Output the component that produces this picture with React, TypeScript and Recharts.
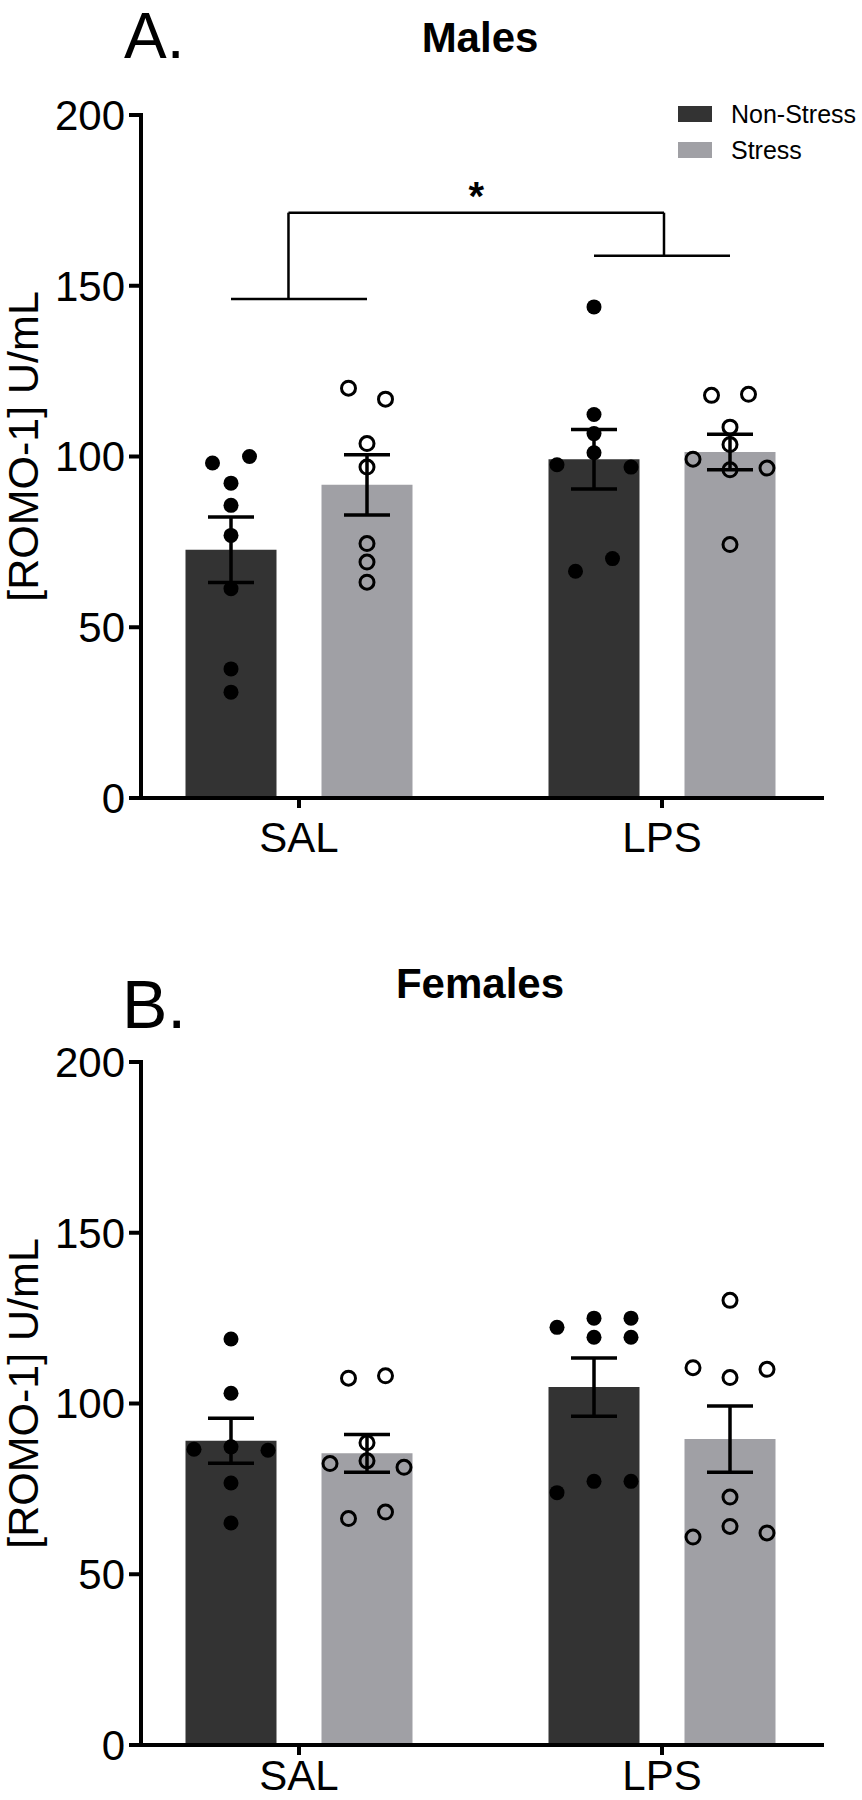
import React from 'react';
import {
  ComposedChart,
  Bar,
  Scatter,
  XAxis,
  YAxis,
  ErrorBar,
  ReferenceLine,
  ReferenceDot,
  Legend,
} from 'recharts';

const FONT = '"Liberation Sans", Arial, Helvetica, sans-serif';

const GROUPS = ['SAL', 'LPS'];
const SERIES = ['Non-Stress', 'Stress'];
const SERIES_COLORS = ['#333333', '#a0a0a5'];
const Y_TICKS = [0, 50, 100, 150, 200];
const Y_LABEL = '[ROMO-1] U/mL';

// Males (A)
const MALE_NS_MEAN = [72.7, 99.2];
const MALE_NS_SEM = [9.6, 8.7];
const MALE_S_MEAN = [91.7, 101.3];
const MALE_S_SEM = [8.8, 5.2];

// individual animals: [value, column slot within the cluster]
const MALE_NS_SAL = [[98.1, -1], [100.0, 1], [92.2, 0], [85.7, 0], [76.9, 0], [61.3, 0], [37.8, 0], [31.0, 0]];
const MALE_NS_LPS = [[143.8, 0], [112.3, 0], [106.7, 0], [101.1, 0], [97.6, -2], [96.9, 2], [70.1, 1], [66.4, -1]];
const MALE_S_SAL = [[120.0, -1], [116.8, 1], [103.8, 0], [96.9, 0], [74.5, 0], [69.1, 0], [63.2, 0]];
const MALE_S_LPS = [[117.9, -1], [118.2, 1], [108.6, 0], [103.5, 0], [99.2, -2], [96.1, 0], [96.6, 2], [74.2, 0]];

// significance bracket (males): left arm, top bar, right arm, star
const SIG_Y = [146.1, 171.4, 158.8, 176.3];

// Females (B)
const FEMALE_NS_MEAN = [89.1, 104.8];
const FEMALE_NS_SEM = [6.6, 8.5];
const FEMALE_S_MEAN = [85.4, 89.6];
const FEMALE_S_SEM = [5.5, 9.7];

const FEMALE_NS_SAL = [[118.9, 0], [103.0, 0], [86.6, -2], [87.3, 0], [86.3, 2], [76.7, 0], [65.0, 0]];
const FEMALE_NS_LPS = [[122.3, -2], [125.0, 0], [125.0, 2], [119.4, 0], [119.4, 2], [77.2, 0], [77.2, 2], [73.9, -2]];
const FEMALE_S_SAL = [[107.4, -1], [108.1, 1], [88.5, 0], [83.2, 0], [82.4, -2], [81.3, 2], [66.3, -1], [68.2, 1]];
const FEMALE_S_LPS = [[130.2, 0], [110.5, -2], [110.0, 2], [107.6, 0], [72.6, 0], [64.0, 0], [60.9, -2], [62.1, 2]];

// layout
const W = 862;
const PLOT_LEFT = 141;
const RIGHT_MARGIN = 40;
const TOP_MARGIN = 115;
const PLOT_H = 683;
const PAD = { left: -23.5, right: -21.5 };
const BAR_SIZE = 91;
const BAR_GAP = 45;
const BAND = (W - PLOT_LEFT - RIGHT_MARGIN - PAD.left - PAD.right) / GROUPS.length;
const SERIES_OFFSET = (BAR_SIZE + BAR_GAP) / 2 / BAND;
const SLOT = 18.5 / BAND;
const AXIS_W = 4;

const FilledDot = (p: any) => <circle cx={p.cx} cy={p.cy} r={7.5} fill="#000" />;
const OpenDot = (p: any) => <circle cx={p.cx} cy={p.cy} r={7} fill="none" stroke="#000" strokeWidth={3} />;

const toPoints = (lists: number[][][], side: number) =>
  lists.flatMap((list, gi) =>
    list.map(([v, slot]) => ({ x: gi + side * SERIES_OFFSET + slot * SLOT, y: v }))
  );

const LegendBox = () => (
  <svg width={192} height={70}>
    {SERIES.map((name, i) => (
      <g key={name}>
        <rect x={8} y={6 + i * 36} width={34} height={16} fill={SERIES_COLORS[i]} />
        <text x={61} y={23 + i * 36} fontSize={25} fontFamily={FONT} fill="#000">
          {name}
        </text>
      </g>
    ))}
  </svg>
);

const YLabel = (props: any) => {
  const { x, y, height } = props.viewBox;
  const cx = x + 38;
  const cy = y + height / 2 - 10;
  return (
    <text
      x={cx}
      y={cy}
      transform={`rotate(-90 ${cx} ${cy})`}
      textAnchor="middle"
      fontSize={43}
      fontFamily={FONT}
      fill="#000"
    >
      {Y_LABEL}
    </text>
  );
};

interface PanelProps {
  height: number;
  nsMean: number[];
  nsSem: number[];
  sMean: number[];
  sSem: number[];
  nsPoints: number[][][];
  sPoints: number[][][];
  tickMargin: number;
  showLegend?: boolean;
  showSig?: boolean;
}

const Panel: React.FC<PanelProps> = ({ height, nsMean, nsSem, sMean, sSem, nsPoints, sPoints, tickMargin, showLegend, showSig }) => {
  const rows = GROUPS.map((g, i) => ({ group: g, ns: nsMean[i], nsSem: nsSem[i], s: sMean[i], sSem: sSem[i] }));
  const nsXY = toPoints(nsPoints, -1);
  const sXY = toPoints(sPoints, 1);
  const xAxisHeight = height - TOP_MARGIN - PLOT_H;

  // bracket x positions (numeric axis units)
  const leftStem = -0.029;
  const rightStem = 1.0055;
  const line = { stroke: '#000', strokeWidth: 2.5, ifOverflow: 'visible' as const, xAxisId: 'num' };

  return (
    <ComposedChart
      width={W}
      height={height}
      data={rows}
      margin={{ top: TOP_MARGIN, right: RIGHT_MARGIN, bottom: 0, left: 0 }}
      barGap={BAR_GAP}
    >
      <XAxis
        xAxisId="cat"
        dataKey="group"
        type="category"
        padding={PAD}
        height={xAxisHeight}
        axisLine={{ stroke: '#000', strokeWidth: AXIS_W, strokeLinecap: 'square' }}
        tickLine={{ stroke: '#000', strokeWidth: AXIS_W }}
        tickSize={10}
        tickMargin={tickMargin}
        tick={{ fontSize: 42, fill: '#000', fontFamily: FONT }}
      />
      <XAxis xAxisId="num" dataKey="x" type="number" domain={[-0.5, GROUPS.length - 0.5]} padding={PAD} hide />
      <YAxis
        width={PLOT_LEFT}
        domain={[0, 200]}
        ticks={Y_TICKS}
        interval={0}
        axisLine={{ stroke: '#000', strokeWidth: AXIS_W, strokeLinecap: 'square' }}
        tickLine={{ stroke: '#000', strokeWidth: AXIS_W }}
        tickSize={12}
        tickMargin={4}
        tick={{ fontSize: 42, fill: '#000', fontFamily: FONT }}
        label={<YLabel />}
      />
      <Bar xAxisId="cat" dataKey="ns" name={SERIES[0]} fill={SERIES_COLORS[0]} barSize={BAR_SIZE} isAnimationActive={false}>
        <ErrorBar dataKey="nsSem" width={23} stroke="#000" strokeWidth={3.5} direction="y" />
      </Bar>
      <Bar xAxisId="cat" dataKey="s" name={SERIES[1]} fill={SERIES_COLORS[1]} barSize={BAR_SIZE} isAnimationActive={false}>
        <ErrorBar dataKey="sSem" width={23} stroke="#000" strokeWidth={3.5} direction="y" />
      </Bar>
      <Scatter xAxisId="num" data={nsXY} dataKey="y" shape={FilledDot} legendType="none" isAnimationActive={false} />
      <Scatter xAxisId="num" data={sXY} dataKey="y" shape={OpenDot} legendType="none" isAnimationActive={false} />
      {showSig && (
        <>
          <ReferenceLine {...line} segment={[{ x: -SERIES_OFFSET, y: SIG_Y[0] }, { x: SERIES_OFFSET, y: SIG_Y[0] }]} />
          <ReferenceLine {...line} segment={[{ x: leftStem, y: SIG_Y[0] }, { x: leftStem, y: SIG_Y[1] }]} />
          <ReferenceLine {...line} segment={[{ x: leftStem, y: SIG_Y[1] }, { x: rightStem, y: SIG_Y[1] }]} />
          <ReferenceLine {...line} segment={[{ x: rightStem, y: SIG_Y[1] }, { x: rightStem, y: SIG_Y[2] }]} />
          <ReferenceLine {...line} segment={[{ x: 1 - SERIES_OFFSET, y: SIG_Y[2] }, { x: 1 + SERIES_OFFSET, y: SIG_Y[2] }]} />
          <ReferenceDot
            xAxisId="num"
            x={(leftStem + rightStem) / 2}
            y={SIG_Y[3]}
            r={0}
            fill="none"
            stroke="none"
            ifOverflow="visible"
            label={{ value: '*', position: 'center', fontSize: 40, fontWeight: 'bold', fill: '#000', fontFamily: FONT }}
          />
        </>
      )}
      {showLegend && (
        <Legend
          layout="vertical"
          align="center"
          verticalAlign="middle"
          wrapperStyle={{ top: 100, left: 670, width: 192 }}
          content={() => <LegendBox />}
        />
      )}
    </ComposedChart>
  );
};

export default function App() {
  return (
    <div style={{ position: 'absolute', left: 0, top: 0, width: W, height: 1800, background: '#fff', fontFamily: FONT }}>
      <Panel
        height={947}
        nsMean={MALE_NS_MEAN}
        nsSem={MALE_NS_SEM}
        sMean={MALE_S_MEAN}
        sSem={MALE_S_SEM}
        nsPoints={[MALE_NS_SAL, MALE_NS_LPS]}
        sPoints={[MALE_S_SAL, MALE_S_LPS]}
        tickMargin={14}
        showLegend
        showSig
      />
      <Panel
        height={853}
        nsMean={FEMALE_NS_MEAN}
        nsSem={FEMALE_NS_SEM}
        sMean={FEMALE_S_MEAN}
        sSem={FEMALE_S_SEM}
        nsPoints={[FEMALE_NS_SAL, FEMALE_NS_LPS]}
        sPoints={[FEMALE_S_SAL, FEMALE_S_LPS]}
        tickMargin={5}
      />
      <svg
        width={W}
        height={1800}
        style={{ position: 'absolute', left: 0, top: 0, pointerEvents: 'none' }}
        fontFamily={FONT}
      >
        <text x={124} y={58} fontSize={64} fill="#000">A.</text>
        <text x={480} y={52} fontSize={42} fontWeight="bold" textAnchor="middle" fill="#000">Males</text>
        <text x={122} y={1028} fontSize={68} fill="#000">B.</text>
        <text x={480} y={998} fontSize={42} fontWeight="bold" textAnchor="middle" fill="#000">Females</text>
      </svg>
    </div>
  );
}
